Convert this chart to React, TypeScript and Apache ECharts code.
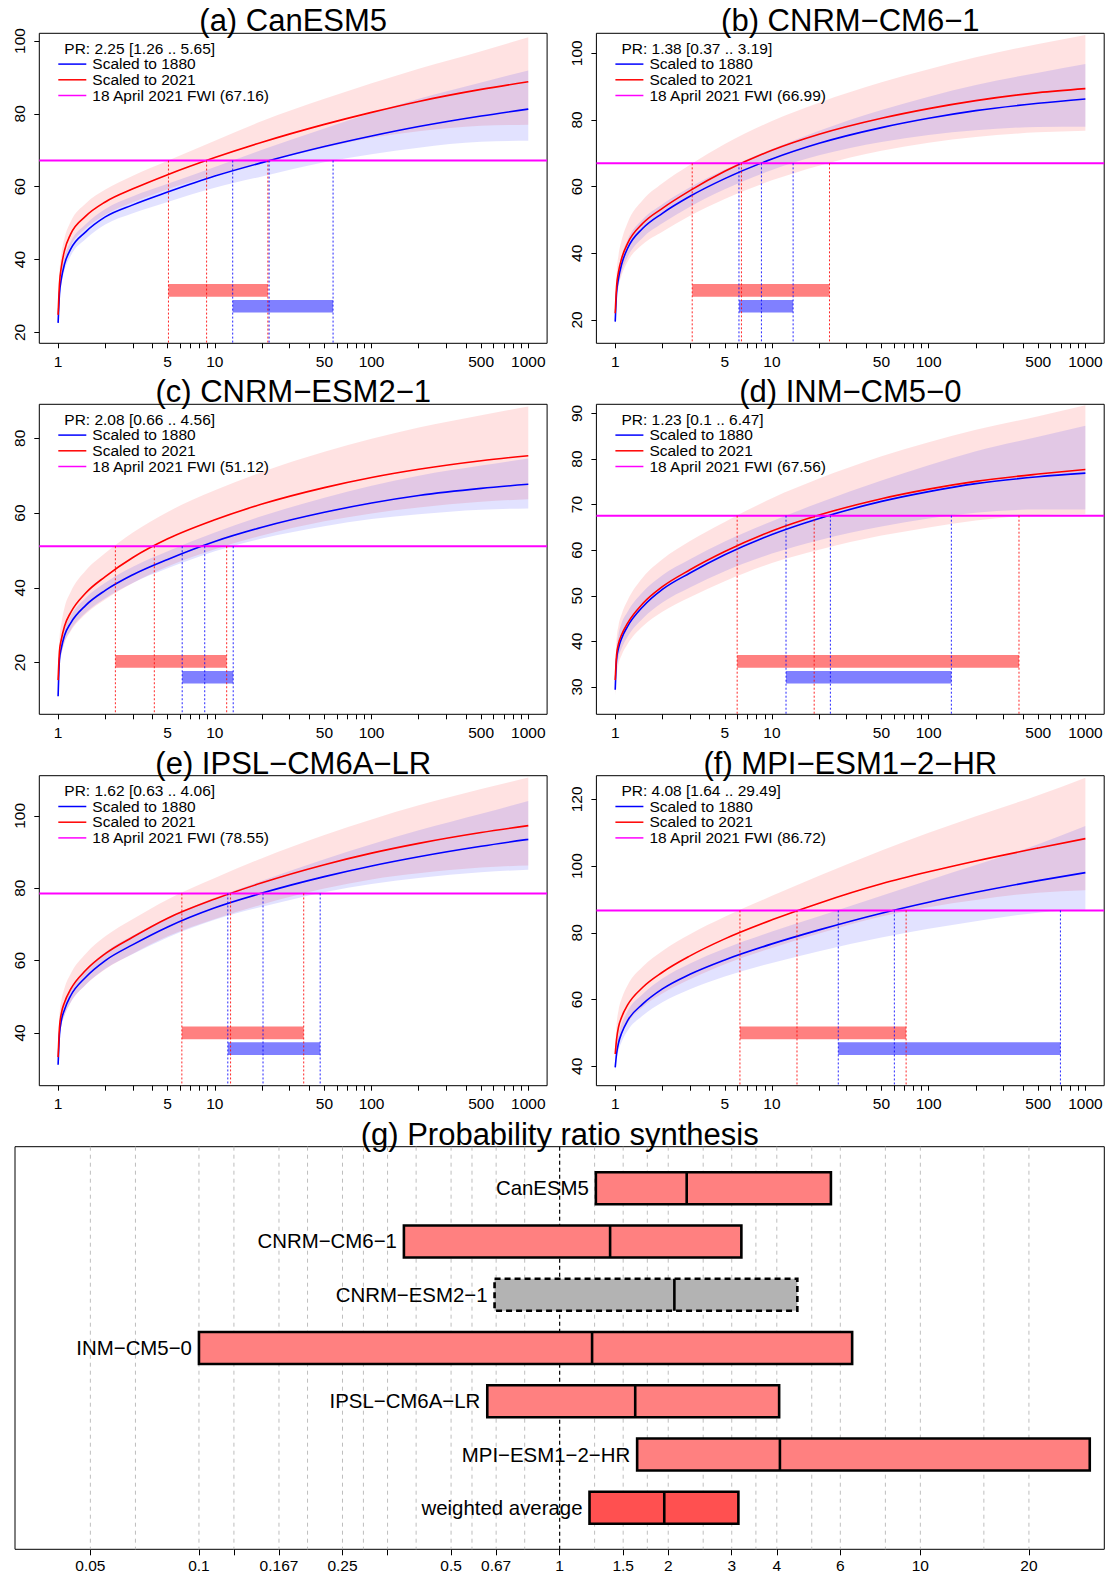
import React, { useEffect, useRef } from 'react';
import * as echarts from 'echarts';

const FONT = '"Liberation Sans", Arial, Helvetica, sans-serif';

const RETURN_PERIODS = [1, 1.02, 1.05, 1.1, 1.2, 1.5, 2, 3, 5, 10, 20, 50, 100, 200, 500, 1000];

// (a) CanESM5
const A_RED = [24.8, 33.3, 38.1, 42.55, 46.9, 51.9, 55.8, 59.4, 63.3, 68.0, 72.2, 77.1, 80.4, 83.4, 86.7, 88.8];
const A_RED_LO = [22.0, 30.1, 34.8, 39.15, 43.5, 48.5, 52.3, 55.7, 59.3, 63.2, 66.6, 70.7, 73.4, 75.2, 76.7, 77.0];
const A_RED_HI = [26.5, 36.5, 41.5, 45.95, 50.3, 55.4, 59.2, 63.0, 67.1, 72.6, 78.0, 84.1, 88.4, 92.4, 97.2, 101.0];
const A_BLUE = [22.6, 30.5, 34.8, 38.8, 42.8, 47.6, 51.7, 55.0, 58.5, 62.9, 66.6, 71.0, 73.9, 76.5, 79.4, 81.3];
const A_BLUE_LO = [21.5, 29.0, 33.1, 37.0, 40.9, 45.6, 49.6, 52.7, 55.8, 59.7, 62.8, 66.7, 68.9, 70.7, 72.3, 72.6];
const A_BLUE_HI = [23.5, 32.0, 36.6, 40.8, 44.8, 49.7, 53.9, 57.4, 60.8, 65.4, 70.1, 76.0, 80.2, 84.1, 88.6, 91.9];

// (b) CNRM-CM6-1
const B_RED = [22.0, 30.0, 34.5, 38.5, 43.0, 49.0, 53.5, 58.8, 64.6, 70.9, 75.7, 80.5, 83.4, 85.8, 88.2, 89.4];
const B_RED_LO = [19.0, 26.0, 30.0, 33.5, 37.5, 42.7, 46.5, 51.3, 56.3, 61.9, 66.3, 70.8, 73.2, 74.9, 76.3, 76.8];
const B_RED_HI = [23.0, 34.0, 39.5, 44.0, 49.2, 56.0, 61.0, 66.6, 72.8, 79.7, 85.2, 91.3, 95.2, 98.8, 102.8, 105.5];
const B_BLUE = [19.5, 28.0, 32.5, 36.8, 41.5, 47.5, 52.0, 57.1, 62.4, 68.3, 73.0, 77.7, 80.5, 82.8, 85.0, 86.3];
const B_BLUE_LO = [18.5, 26.0, 30.3, 34.4, 38.9, 44.7, 49.0, 54.0, 59.2, 65.0, 69.4, 73.4, 75.5, 76.9, 77.9, 78.0];
const B_BLUE_HI = [20.5, 30.0, 34.8, 39.3, 44.1, 50.2, 54.7, 59.8, 65.15, 71.3, 76.8, 83.0, 87.0, 90.5, 94.2, 96.8];

// (c) CNRM-ESM2-1
const C_RED = [15.3, 23.0, 26.3, 29.8, 33.3, 38.6, 43.0, 48.1, 53.1, 58.2, 62.4, 66.8, 69.5, 71.7, 74.0, 75.35];
const C_RED_LO = [13.0, 19.5, 22.3, 25.3, 28.3, 33.0, 36.9, 41.3, 45.7, 50.3, 54.0, 57.8, 59.9, 61.5, 63.0, 63.7];
const C_RED_HI = [17.0, 26.5, 30.6, 34.8, 38.8, 44.6, 49.3, 54.8, 60.3, 66.1, 71.0, 76.4, 79.9, 82.9, 86.2, 88.5];
const C_BLUE = [11.0, 20.7, 24.0, 27.3, 30.5, 35.3, 39.3, 43.5, 47.6, 52.4, 56.2, 60.2, 62.7, 64.7, 66.6, 67.7];
const C_BLUE_LO = [10.0, 19.2, 22.3, 25.5, 28.6, 33.3, 37.2, 41.3, 45.2, 49.8, 53.2, 56.5, 58.4, 59.7, 60.9, 61.25];
const C_BLUE_HI = [12.0, 22.2, 25.7, 29.1, 32.4, 37.3, 41.35, 45.6, 49.75, 54.8, 59.2, 64.1, 67.3, 70.0, 72.7, 74.6];

// (d) INM-CM5-0
const D_RED = [31.5, 37.0, 39.5, 41.5, 44.0, 48.3, 52.0, 55.7, 59.7, 64.2, 67.7, 71.3, 73.4, 75.1, 76.7, 77.7];
const D_RED_LO = [28.0, 32.5, 35.0, 37.0, 39.4, 43.3, 46.5, 49.7, 53.2, 57.2, 60.1, 63.2, 65.0, 66.5, 67.7, 67.9];
const D_RED_HI = [33.0, 40.5, 43.5, 46.0, 49.0, 54.0, 58.0, 62.0, 66.2, 71.4, 75.7, 80.6, 83.7, 86.4, 89.4, 91.8];
const D_BLUE = [29.4, 36.0, 38.5, 40.7, 43.3, 47.6, 51.4, 55.0, 59.0, 63.45, 66.97, 70.7, 72.85, 74.6, 76.1, 76.9];
const D_BLUE_LO = [28.4, 34.0, 36.5, 38.5, 41.0, 45.0, 48.5, 51.8, 55.4, 59.25, 62.2, 65.2, 66.95, 68.2, 68.9, 68.9];
const D_BLUE_HI = [30.4, 38.5, 41.5, 44.0, 46.5, 50.8, 54.5, 58.0, 61.9, 66.35, 70.4, 75.3, 78.65, 81.7, 84.9, 87.3];

// (e) IPSL-CM6A-LR
const E_RED = [33.3, 41.5, 45.5, 48.5, 52.0, 57.3, 61.9, 66.5, 71.7, 77.0, 81.5, 86.5, 89.7, 92.4, 95.4, 97.3];
const E_RED_LO = [31.0, 38.0, 42.0, 44.9, 48.3, 53.3, 57.6, 61.9, 66.7, 71.5, 75.5, 79.9, 82.4, 84.1, 85.7, 86.3];
const E_RED_HI = [35.0, 45.0, 49.0, 52.5, 56.3, 61.9, 66.7, 71.5, 76.9, 82.8, 88.3, 94.7, 99.0, 102.9, 107.4, 110.6];
const E_BLUE = [31.2, 39.5, 43.5, 46.5, 50.2, 55.4, 60.0, 64.4, 69.3, 74.6, 78.65, 83.2, 86.15, 88.7, 91.6, 93.5];
const E_BLUE_LO = [30.0, 38.0, 42.0, 44.8, 48.3, 53.3, 57.7, 61.8, 66.4, 71.3, 74.85, 78.9, 81.15, 82.8, 84.4, 85.1];
const E_BLUE_HI = [32.0, 41.0, 45.0, 48.2, 52.1, 57.5, 62.3, 66.9, 71.9, 77.35, 82.05, 88.0, 92.15, 96.0, 100.6, 104.1];

// (f) MPI-ESM1-2-HR
const F_RED = [43.7, 48.1, 51.8, 54.8, 58.4, 63.7, 68.2, 73.1, 78.2, 83.9, 88.9, 94.7, 98.3, 101.55, 105.45, 108.25];
const F_RED_LO = [41.0, 44.1, 47.3, 49.8, 53.0, 57.8, 61.8, 66.1, 70.6, 75.5, 79.8, 84.9, 87.7, 89.85, 92.05, 92.8];
const F_RED_HI = [46.0, 52.6, 56.8, 60.3, 64.3, 69.9, 74.6, 79.6, 84.8, 91.1, 97.1, 104.7, 110.0, 114.95, 121.25, 126.5];
const F_BLUE = [39.7, 43.7, 47.0, 50.0, 53.7, 58.7, 63.2, 67.6, 71.9, 76.7, 80.9, 85.9, 89.2, 92.15, 95.65, 98.05];
const F_BLUE_LO = [38.5, 41.7, 44.7, 47.4, 50.7, 55.2, 59.2, 63.1, 66.9, 71.0, 74.5, 78.6, 81.2, 83.45, 86.05, 86.9];
const F_BLUE_HI = [41.0, 46.2, 49.7, 52.8, 56.6, 61.7, 66.3, 70.8, 75.3, 80.4, 85.0, 91.1, 95.8, 100.35, 106.55, 112.0];

// Model info
const MODELS = ['CanESM5', 'CNRM−CM6−1', 'CNRM−ESM2−1', 'INM−CM5−0', 'IPSL−CM6A−LR', 'MPI−ESM1−2−HR'];
const LETTERS = ['a', 'b', 'c', 'd', 'e', 'f'];
const FWI = [67.16, 66.99, 51.12, 67.56, 78.55, 86.72];
const PR_MID = [2.25, 1.38, 2.08, 1.23, 1.62, 4.08];
const PR_LO = [1.26, 0.37, 0.66, 0.1, 0.63, 1.64];
const PR_HI = [5.65, 3.19, 4.56, 6.47, 4.06, 29.49];

// Return periods of the event: [lower, central, upper]
const RED_RP = [[5.06, 8.86, 21.8], [3.1, 6.39, 23.3], [2.32, 4.11, 11.9], [6.0, 18.6, 377], [6.16, 12.6, 36.9], [6.25, 14.45, 71.8]];
const BLUE_RP = [[13.0, 22.2, 56.8], [6.16, 8.57, 13.65], [6.19, 8.62, 13.1], [12.3, 23.6, 139.6], [12.1, 20.3, 47.0], [26.5, 60.4, 693]];

// Axis ranges and ticks
const Y_MIN = [17.0, 13.0, 6.15, 24.0, 25.4, 34.2];
const Y_MAX = [102.1, 106.0, 89.1, 92.0, 111.1, 127.1];
const Y_TICKS = [[20, 40, 60, 80, 100], [20, 40, 60, 80, 100], [20, 40, 60, 80], [30, 40, 50, 60, 70, 80, 90], [40, 60, 80, 100], [40, 60, 80, 100, 120]];
const X_LABEL_RP = [1, 5, 10, 50, 100, 500, 1000];
const X_TICK_RP = [1, 2, 3, 4, 5, 6, 7, 8, 9, 10, 20, 30, 40, 50, 60, 70, 80, 90, 100, 200, 300, 400, 500, 600, 700, 800, 900, 1000];

// (g) synthesis
const WEIGHTED = [1.21, 1.95, 3.13];
const G_NAMES = [...MODELS, 'weighted average'];
const G_LO = [...PR_LO, WEIGHTED[0]];
const G_MID = [...PR_MID, WEIGHTED[1]];
const G_HI = [...PR_HI, WEIGHTED[2]];
const G_KIND = [0, 0, 1, 0, 0, 0, 2];
const G_GRID = [1 / 20, 1 / 15, 1 / 10, 1 / 8, 1 / 6, 1 / 5, 1 / 4, 1 / 3.5, 1 / 3, 1 / 2.5, 1 / 2, 1 / 1.75, 1 / 1.5, 1 / 1.25,
  1.25, 1.5, 1.75, 2, 2.5, 3, 3.5, 4, 5, 6, 8, 10, 15, 20];
const G_REF = [1];
const G_TICKS = [0.05, 0.1, 0.125, 1 / 6, 0.25, 1 / 3, 0.5, 2 / 3, 1, 1.5, 2, 3, 4, 6, 10, 20];
const G_LABEL_VALUES = [0.05, 0.1, 1 / 6, 0.25, 0.5, 2 / 3, 1, 1.5, 2, 3, 4, 6, 10, 20];
const G_LABEL_TEXT = ['0.05', '0.1', '0.167', '0.25', '0.5', '0.67', '1', '1.5', '2', '3', '4', '6', '10', '20'];

// Layout
const PANEL_LEFT = [39.3, 596.4, 39.3, 596.4, 39.3, 596.4];
const PANEL_TOP = [33.3, 33.3, 404.3, 404.3, 775.7, 775.7];
const PANEL_W = 507.8;
const PANEL_H = 310;
const X_MIN = -0.12;
const X_MAX = 3.12;
const G_BOX = { left: 15, top: 1146.7, width: 1089.3, height: 402.6 };
const G_XMIN = -1.51;
const G_XMAX = 1.51;
const G_YMIN = 0.22;
const G_YMAX = 7.78;
const TITLE_SIZE = 31;
const SMALL_SIZE = 15.5;

const CURVE_RED = [A_RED, B_RED, C_RED, D_RED, E_RED, F_RED];
const CURVE_RED_LO = [A_RED_LO, B_RED_LO, C_RED_LO, D_RED_LO, E_RED_LO, F_RED_LO];
const CURVE_RED_HI = [A_RED_HI, B_RED_HI, C_RED_HI, D_RED_HI, E_RED_HI, F_RED_HI];
const CURVE_BLUE = [A_BLUE, B_BLUE, C_BLUE, D_BLUE, E_BLUE, F_BLUE];
const CURVE_BLUE_LO = [A_BLUE_LO, B_BLUE_LO, C_BLUE_LO, D_BLUE_LO, E_BLUE_LO, F_BLUE_LO];
const CURVE_BLUE_HI = [A_BLUE_HI, B_BLUE_HI, C_BLUE_HI, D_BLUE_HI, E_BLUE_HI, F_BLUE_HI];

const lg = (v: number) => Math.log10(v);
const f2 = (v: number) => v.toFixed(2);

// monotone cubic (x-monotone) tangents in pixel space
function tangents(pts: number[][]) {
  const n = pts.length;
  const t: number[] = new Array(n).fill(0);
  const s: number[] = [];
  const h: number[] = [];
  for (let i = 0; i < n - 1; i++) {
    h[i] = pts[i + 1][0] - pts[i][0];
    s[i] = h[i] !== 0 ? (pts[i + 1][1] - pts[i][1]) / h[i] : 0;
  }
  for (let i = 1; i < n - 1; i++) {
    const p = (s[i - 1] * h[i] + s[i] * h[i - 1]) / (h[i - 1] + h[i]);
    t[i] = (Math.sign(s[i - 1]) + Math.sign(s[i])) * Math.min(Math.abs(s[i - 1]), Math.abs(s[i]), 0.5 * Math.abs(p)) || 0;
  }
  t[0] = h[0] ? (3 * s[0] - t[1]) / 2 : 0;
  t[n - 1] = h[n - 2] ? (3 * s[n - 2] - t[n - 2]) / 2 : 0;
  return t;
}

function forwardPath(pts: number[][], start: string) {
  const t = tangents(pts);
  let d = `${start}${f2(pts[0][0])},${f2(pts[0][1])}`;
  for (let i = 0; i < pts.length - 1; i++) {
    const dx = (pts[i + 1][0] - pts[i][0]) / 3;
    d += ` C${f2(pts[i][0] + dx)},${f2(pts[i][1] + dx * t[i])} ${f2(pts[i + 1][0] - dx)},${f2(pts[i + 1][1] - dx * t[i + 1])} ${f2(pts[i + 1][0])},${f2(pts[i + 1][1])}`;
  }
  return d;
}

function reversePath(pts: number[][]) {
  const t = tangents(pts);
  const n = pts.length;
  let d = ` L${f2(pts[n - 1][0])},${f2(pts[n - 1][1])}`;
  for (let i = n - 2; i >= 0; i--) {
    const dx = (pts[i + 1][0] - pts[i][0]) / 3;
    d += ` C${f2(pts[i + 1][0] - dx)},${f2(pts[i + 1][1] - dx * t[i + 1])} ${f2(pts[i][0] + dx)},${f2(pts[i][1] + dx * t[i])} ${f2(pts[i][0])},${f2(pts[i][1])}`;
  }
  return d;
}

const EMPTY = { type: 'group', children: [] };

function buildOption() {
  const grid: any[] = [];
  const xAxis: any[] = [];
  const yAxis: any[] = [];
  const series: any[] = [];
  const graphics: any[] = [];

  for (let p = 0; p < 6; p++) {
    const L = PANEL_LEFT[p];
    const T = PANEL_TOP[p];
    grid.push({ left: L, top: T, width: PANEL_W, height: PANEL_H, show: true, borderColor: '#000', borderWidth: 1, backgroundColor: 'transparent' });
    xAxis.push({
      type: 'value', gridIndex: p, min: X_MIN, max: X_MAX,
      axisLine: { show: false, onZero: false }, splitLine: { show: false },
      axisTick: { show: true, length: 5, lineStyle: { color: '#000', width: 1 }, customValues: X_TICK_RP.map(lg) },
      axisLabel: {
        show: true, customValues: X_LABEL_RP.map(lg),
        formatter: (v: number) => String(Math.round(Math.pow(10, v))),
        fontSize: SMALL_SIZE, color: '#000', fontFamily: FONT, margin: 10,
      },
    });
    yAxis.push({
      type: 'value', gridIndex: p, min: Y_MIN[p], max: Y_MAX[p],
      axisLine: { show: false, onZero: false }, splitLine: { show: false },
      axisTick: { show: true, length: 5, lineStyle: { color: '#000', width: 1 }, customValues: Y_TICKS[p] },
      axisLabel: { show: true, customValues: Y_TICKS[p], rotate: 90, fontSize: SMALL_SIZE, color: '#000', fontFamily: FONT, margin: 12 },
    });
    yAxis.push({ type: 'value', gridIndex: p, min: 0, max: 1, show: false, axisLine: { onZero: false } });
    const yi = 2 * p;
    const yb = 2 * p + 1;

    const bands = [
      [CURVE_RED_LO[p], CURVE_RED_HI[p], 'rgba(255,0,0,0.115)'],
      [CURVE_BLUE_LO[p], CURVE_BLUE_HI[p], 'rgba(0,0,255,0.115)'],
    ];
    bands.forEach((b: any, k) => {
      const rows = RETURN_PERIODS.map((rp, i) => [lg(rp), b[0][i], b[1][i]]);
      series.push({
        type: 'custom', name: `band${p}_${k}`, xAxisIndex: p, yAxisIndex: yi, silent: true, z: 1 + k * 0.1, clip: true,
        encode: { x: 0, y: [1, 2] }, data: rows,
        renderItem: (params: any, api: any) => {
          if (params.dataIndex !== 0) return EMPTY;
          const up = rows.map((r) => api.coord([r[0], r[2]]));
          const dn = rows.map((r) => api.coord([r[0], r[1]]));
          return { type: 'path', shape: { pathData: forwardPath(up, 'M') + reversePath(dn) + ' Z' }, style: { fill: b[2], stroke: null } };
        },
      });
    });

    const curves = [[CURVE_BLUE[p], '#0000FF'], [CURVE_RED[p], '#FF0000']];
    curves.forEach((c: any, k) => {
      const rows = RETURN_PERIODS.map((rp, i) => [lg(rp), c[0][i]]);
      series.push({
        type: 'custom', name: `curve${p}_${k}`, xAxisIndex: p, yAxisIndex: yi, silent: true, z: 3, clip: true,
        encode: { x: 0, y: 1 }, data: rows,
        renderItem: (params: any, api: any) => {
          if (params.dataIndex !== 0) return EMPTY;
          const pts = rows.map((r) => api.coord(r));
          return { type: 'path', shape: { pathData: forwardPath(pts, 'M') }, style: { fill: 'none', stroke: c[1], lineWidth: 1.6 } };
        },
      });
    });

    series.push({
      type: 'line', name: `fwi${p}`, xAxisIndex: p, yAxisIndex: yi, silent: true, z: 4, symbol: 'none',
      data: [[X_MIN, FWI[p]], [X_MAX, FWI[p]]], lineStyle: { color: '#FF00FF', width: 2 },
    });

    const vrows = [...RED_RP[p].map((t) => [lg(t), 0]), ...BLUE_RP[p].map((t) => [lg(t), 1])];
    series.push({
      type: 'custom', name: `vlines${p}`, xAxisIndex: p, yAxisIndex: yi, silent: true, z: 6,
      encode: { x: 0, y: 1 }, data: vrows,
      renderItem: (params: any, api: any) => {
        const x = api.value(0);
        const c = api.value(1);
        const a = api.coord([x, FWI[p]]);
        const b = api.coord([x, Y_MIN[p]]);
        return { type: 'line', shape: { x1: a[0], y1: a[1], x2: b[0], y2: b[1] }, style: { stroke: c === 0 ? '#FF0000' : '#0000FF', lineWidth: 1, lineDash: [2, 2], opacity: 0.85 } };
      },
    });

    const brows = [[lg(RED_RP[p][0]), lg(RED_RP[p][2]), 0], [lg(BLUE_RP[p][0]), lg(BLUE_RP[p][2]), 1]];
    series.push({
      type: 'custom', name: `bars${p}`, xAxisIndex: p, yAxisIndex: yb, silent: true, z: 5,
      encode: { x: [0, 1], y: 2 }, data: brows,
      renderItem: (params: any, api: any) => {
        const lo = api.value(0);
        const hi = api.value(1);
        const c = api.value(2);
        const fr = c === 0 ? [0.150, 0.191] : [0.099, 0.140];
        const a = api.coord([lo, fr[1]]);
        const b = api.coord([hi, fr[0]]);
        return { type: 'rect', shape: { x: a[0], y: a[1], width: b[0] - a[0], height: b[1] - a[1] }, style: { fill: c === 0 ? '#FF8080' : '#8080FF' } };
      },
    });

    // title
    graphics.push({
      type: 'text', x: L + PANEL_W / 2, y: T - 12.5, silent: true, z: 20,
      style: { text: `(${LETTERS[p]}) ${MODELS[p]}`, fontSize: TITLE_SIZE, fontFamily: FONT, fill: '#000', align: 'center', verticalAlign: 'middle' },
    });
    // legend
    graphics.push({
      type: 'text', x: L + 25, y: T + 15, silent: true, z: 20,
      style: { text: `PR: ${PR_MID[p]} [${PR_LO[p]} .. ${PR_HI[p]}]`, fontSize: SMALL_SIZE, fontFamily: FONT, fill: '#000', align: 'left', verticalAlign: 'middle' },
    });
    const legItems = [['Scaled to 1880', '#0000FF'], ['Scaled to 2021', '#FF0000'], [`18 April 2021 FWI (${FWI[p]})`, '#FF00FF']];
    legItems.forEach((it, k) => {
      const yy = T + 30.3 + 15.7 * k;
      graphics.push({ type: 'line', silent: true, z: 20, shape: { x1: L + 19, y1: yy + 0.5, x2: L + 47, y2: yy + 0.5 }, style: { stroke: it[1], lineWidth: 1.5 } });
      graphics.push({
        type: 'text', x: L + 53, y: yy, silent: true, z: 20,
        style: { text: it[0], fontSize: SMALL_SIZE, fontFamily: FONT, fill: '#000', align: 'left', verticalAlign: 'middle' },
      });
    });
  }

  // (g) synthesis panel
  grid.push({ ...G_BOX, show: true, borderColor: '#000', borderWidth: 1, backgroundColor: 'transparent' });
  xAxis.push({
    type: 'value', gridIndex: 6, min: G_XMIN, max: G_XMAX,
    axisLine: { show: false, onZero: false }, splitLine: { show: false },
    axisTick: { show: true, length: 6, lineStyle: { color: '#000', width: 1 }, customValues: G_TICKS.map(lg) },
    axisLabel: {
      show: true, customValues: G_LABEL_VALUES.map(lg),
      formatter: (v: number) => {
        const i = G_LABEL_VALUES.findIndex((g) => Math.abs(lg(g) - v) < 1e-6);
        return i >= 0 ? G_LABEL_TEXT[i] : '';
      },
      fontSize: SMALL_SIZE, color: '#000', fontFamily: FONT, margin: 8,
    },
  });
  yAxis.push({ type: 'value', gridIndex: 6, min: G_YMIN, max: G_YMAX, inverse: true, show: false, axisLine: { onZero: false } });

  series.push({
    type: 'custom', name: 'ggrid', xAxisIndex: 6, yAxisIndex: 12, silent: true, z: 1,
    encode: { x: 0 }, data: G_GRID.map((g) => [lg(g)]),
    renderItem: (params: any, api: any) => {
      const v = api.value(0);
      const a = api.coord([v, G_YMIN]);
      const b = api.coord([v, G_YMAX]);
      return { type: 'line', shape: { x1: a[0], y1: a[1], x2: b[0], y2: b[1] }, style: { stroke: '#BEBEBE', lineWidth: 1, lineDash: [4, 4] } };
    },
  });
  series.push({
    type: 'custom', name: 'gref', xAxisIndex: 6, yAxisIndex: 12, silent: true, z: 2,
    encode: { x: 0 }, data: G_REF.map((g) => [lg(g)]),
    renderItem: (params: any, api: any) => {
      const v = api.value(0);
      const a = api.coord([v, G_YMIN]);
      const b = api.coord([v, G_YMAX]);
      return { type: 'line', shape: { x1: a[0], y1: a[1], x2: b[0], y2: b[1] }, style: { stroke: '#000', lineWidth: 1.2, lineDash: [4, 3] } };
    },
  });
  const grows = G_NAMES.map((n, i) => [lg(G_LO[i]), i + 1, lg(G_MID[i]), lg(G_HI[i]), G_KIND[i]]);
  series.push({
    type: 'custom', name: 'gbars', xAxisIndex: 6, yAxisIndex: 12, silent: true, z: 3,
    encode: { x: [0, 2, 3], y: 1 }, data: grows,
    renderItem: (params: any, api: any) => {
      const lo = api.value(0);
      const row = api.value(1);
      const mid = api.value(2);
      const hi = api.value(3);
      const kind = api.value(4);
      const a = api.coord([lo, row - 0.3]);
      const b = api.coord([hi, row + 0.3]);
      const m1 = api.coord([mid, row - 0.3]);
      const m2 = api.coord([mid, row + 0.3]);
      const c = api.coord([lo, row]);
      const fill = kind === 1 ? '#B3B3B3' : kind === 2 ? '#FF5050' : '#FF8080';
      return {
        type: 'group',
        children: [
          {
            type: 'rect', shape: { x: a[0], y: Math.min(a[1], b[1]), width: b[0] - a[0], height: Math.abs(b[1] - a[1]) },
            style: { fill, stroke: '#000', lineWidth: 2.6, lineDash: kind === 1 ? [6, 4] : null },
          },
          { type: 'line', shape: { x1: m1[0], y1: m1[1], x2: m2[0], y2: m2[1] }, style: { stroke: '#000', lineWidth: 2.6 } },
          {
            type: 'text', x: c[0] - 7, y: c[1],
            style: { text: G_NAMES[params.dataIndex], fontSize: 20.4, fontFamily: FONT, fill: '#000', align: 'right', verticalAlign: 'middle' },
          },
        ],
      };
    },
  });
  graphics.push({
    type: 'text', x: G_BOX.left + G_BOX.width / 2, y: G_BOX.top - 12.7, silent: true, z: 20,
    style: { text: '(g) Probability ratio synthesis', fontSize: TITLE_SIZE, fontFamily: FONT, fill: '#000', align: 'center', verticalAlign: 'middle' },
  });

  return {
    animation: false,
    backgroundColor: '#fff',
    textStyle: { fontFamily: FONT },
    grid, xAxis, yAxis, series,
    graphic: { elements: graphics },
  };
}

export default function App() {
  const ref = useRef<HTMLDivElement>(null);
  useEffect(() => {
    document.body.style.margin = '0';
    const chart = echarts.init(ref.current as HTMLDivElement, null, { renderer: 'svg' });
    chart.setOption(buildOption() as any);
    return () => chart.dispose();
  }, []);
  return <div ref={ref} style={{ width: 1109, height: 1574 }} />;
}
